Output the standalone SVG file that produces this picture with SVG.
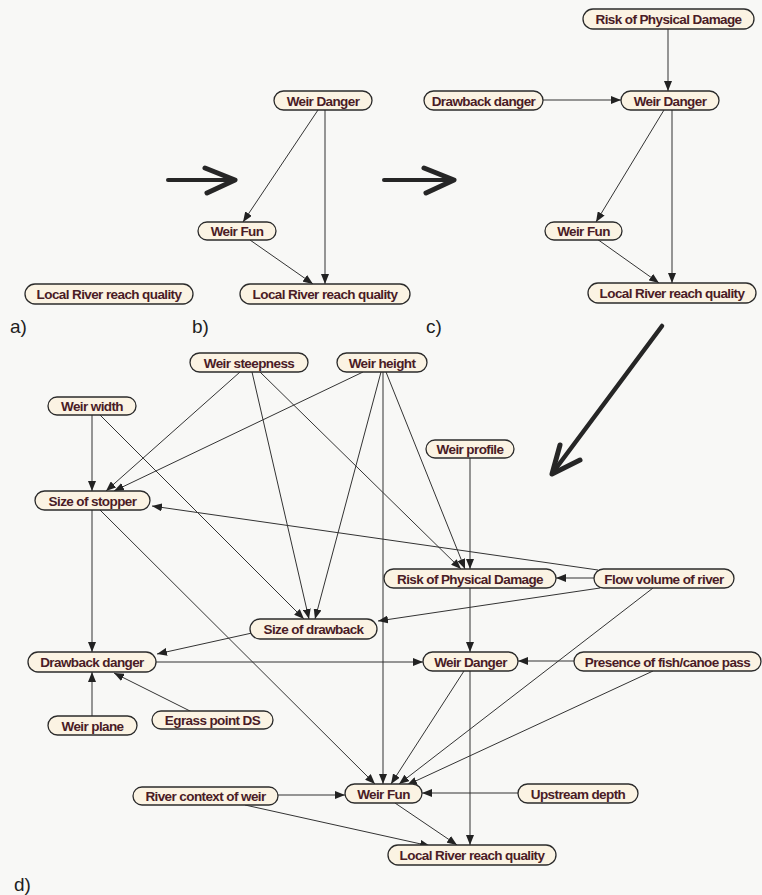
<svg xmlns="http://www.w3.org/2000/svg" width="762" height="895" viewBox="0 0 762 895">
<style>
.n rect{fill:#fbf3e3;stroke:#2b2b2b;stroke-width:1.3}
.n text{font-family:"Liberation Sans",Arial,sans-serif;font-size:13.5px;font-weight:bold;fill:#4a1c26;text-anchor:middle;letter-spacing:-0.6px}
.e line{stroke:#333;stroke-width:1;marker-end:url(#ah)}
.big{stroke:#262626;fill:none;stroke-linecap:round;stroke-linejoin:round}
.lbl{font-family:"Liberation Sans",Arial,sans-serif;font-size:19px;fill:#1e1e1e}
</style>
<defs>
<marker id="ah" markerUnits="userSpaceOnUse" markerWidth="10" markerHeight="8" refX="10" refY="4" orient="auto">
<path d="M0,0 L10,4 L0,8 z" fill="#222"/>
</marker>
</defs>
<rect width="762" height="895" fill="#f8f8f6"/>

<!-- big arrows -->
<g id="bigArrows">
<path class="big" d="M168,180 H233" stroke-width="4"/>
<path class="big" d="M205,168 L235,180 L207,193" stroke-width="5"/>
<path class="big" d="M384,180 H452" stroke-width="4"/>
<path class="big" d="M424,168 L454,180 L426,193" stroke-width="5"/>
<path class="big" d="M662,326 L554,471" stroke-width="4.5"/>
<path class="big" d="M560,445 L552,474 L580,460" stroke-width="5"/>
</g>

<g id="labels">
<text class="lbl" x="10" y="333">a)</text>
<text class="lbl" x="192" y="333">b)</text>
<text class="lbl" x="426" y="333">c)</text>
<text class="lbl" x="14" y="891">d)</text>
</g>

<g id="connectors" class="e">
<!-- b -->
<line x1="318" y1="110" x2="243" y2="222"/>
<line x1="325" y1="110" x2="325" y2="284"/>
<line x1="250" y1="240" x2="313" y2="284"/>
<!-- c -->
<line x1="668" y1="29" x2="668" y2="91"/>
<line x1="543" y1="100" x2="621" y2="100"/>
<line x1="664" y1="110" x2="596" y2="222"/>
<line x1="672" y1="110" x2="672" y2="283"/>
<line x1="597" y1="239" x2="659" y2="283"/>
<!-- d -->
<line x1="92" y1="415" x2="92" y2="491"/>
<line x1="100" y1="415" x2="304" y2="619"/>
<line x1="240" y1="372" x2="106" y2="491"/>
<line x1="363" y1="372" x2="114" y2="491"/>
<line x1="252" y1="372" x2="309" y2="619"/>
<line x1="260" y1="372" x2="461" y2="569"/>
<line x1="381" y1="372" x2="315" y2="619"/>
<line x1="383" y1="372" x2="383" y2="784"/>
<line x1="386" y1="372" x2="465" y2="569"/>
<line x1="470" y1="458" x2="470" y2="569"/>
<line x1="598" y1="570" x2="152" y2="506"/>
<line x1="594" y1="578" x2="556" y2="578"/>
<line x1="600" y1="588" x2="378" y2="621"/>
<line x1="653" y1="588" x2="399" y2="784"/>
<line x1="92" y1="510" x2="92" y2="652"/>
<line x1="100" y1="510" x2="375" y2="784"/>
<line x1="252" y1="633" x2="157" y2="654"/>
<line x1="156" y1="662" x2="423" y2="662"/>
<line x1="470" y1="588" x2="470" y2="652"/>
<line x1="574" y1="661" x2="518" y2="661"/>
<line x1="464" y1="671" x2="391" y2="784"/>
<line x1="470" y1="671" x2="470" y2="845"/>
<line x1="653" y1="671" x2="407" y2="785"/>
<line x1="92" y1="716" x2="92" y2="672"/>
<line x1="192" y1="712" x2="114" y2="673"/>
<line x1="278" y1="795" x2="345" y2="795"/>
<line x1="245" y1="805" x2="430" y2="846"/>
<line x1="518" y1="793" x2="422" y2="793"/>
<line x1="395" y1="803" x2="457" y2="845"/>
</g>

<!-- panel a -->
<g id="a_lrq" class="n"><rect x="25" y="284" width="168" height="20" rx="10"/><text x="109" y="299">Local River reach quality</text></g>
<!-- panel b -->
<g id="b_wd" class="n"><rect x="274" y="91" width="98" height="19" rx="9.5"/><text x="323" y="105.5">Weir Danger</text></g>
<g id="b_wf" class="n"><rect x="198" y="222" width="78" height="18" rx="9"/><text x="237" y="236">Weir Fun</text></g>
<g id="b_lrq" class="n"><rect x="240" y="284" width="170" height="20" rx="10"/><text x="325" y="299">Local River reach quality</text></g>
<!-- panel c -->
<g id="c_rpd" class="n"><rect x="583" y="9" width="171" height="20" rx="10"/><text x="668.5" y="24">Risk of Physical Damage</text></g>
<g id="c_dd" class="n"><rect x="424" y="91" width="119" height="19" rx="9.5"/><text x="483.5" y="105.5">Drawback danger</text></g>
<g id="c_wd" class="n"><rect x="621" y="91" width="98" height="19" rx="9.5"/><text x="670" y="105.5">Weir Danger</text></g>
<g id="c_wf" class="n"><rect x="545" y="222" width="77" height="18" rx="9"/><text x="583.5" y="236">Weir Fun</text></g>
<g id="c_lrq" class="n"><rect x="588" y="283" width="168" height="20" rx="10"/><text x="672" y="298">Local River reach quality</text></g>
<!-- panel d -->
<g id="d_ws" class="n"><rect x="190" y="353" width="118" height="19" rx="9.5"/><text x="249" y="367.5">Weir steepness</text></g>
<g id="d_wh" class="n"><rect x="337" y="353" width="90" height="19" rx="9.5"/><text x="382" y="367.5">Weir height</text></g>
<g id="d_ww" class="n"><rect x="48" y="397" width="88" height="18" rx="9"/><text x="92" y="411">Weir width</text></g>
<g id="d_wp" class="n"><rect x="426" y="440" width="88" height="18" rx="9"/><text x="470" y="454">Weir profile</text></g>
<g id="d_sos" class="n"><rect x="35" y="491" width="115" height="19" rx="9.5"/><text x="92.5" y="505.5">Size of stopper</text></g>
<g id="d_rpd" class="n"><rect x="384" y="569" width="172" height="19" rx="9.5"/><text x="470" y="583.5">Risk of Physical Damage</text></g>
<g id="d_fv" class="n"><rect x="594" y="569" width="140" height="19" rx="9.5"/><text x="664" y="583.5">Flow volume of river</text></g>
<g id="d_sod" class="n"><rect x="250" y="619" width="127" height="20" rx="10"/><text x="313.5" y="634">Size of drawback</text></g>
<g id="d_dd" class="n"><rect x="28" y="652" width="128" height="20" rx="10"/><text x="92" y="667">Drawback danger</text></g>
<g id="d_wd" class="n"><rect x="423" y="652" width="95" height="19" rx="9.5"/><text x="470.5" y="666.5">Weir Danger</text></g>
<g id="d_pf" class="n"><rect x="574" y="652" width="187" height="19" rx="9.5"/><text x="667.5" y="666.5">Presence of fish/canoe pass</text></g>
<g id="d_wpl" class="n"><rect x="48" y="716" width="89" height="19" rx="9.5"/><text x="92.5" y="730.5">Weir plane</text></g>
<g id="d_eg" class="n"><rect x="152" y="711" width="121" height="18" rx="9"/><text x="212.5" y="725">Egrass point DS</text></g>
<g id="d_rc" class="n"><rect x="133" y="787" width="145" height="18" rx="9"/><text x="205.5" y="801">River context of weir</text></g>
<g id="d_wf" class="n"><rect x="345" y="784" width="77" height="19" rx="9.5"/><text x="383.5" y="798.5">Weir Fun</text></g>
<g id="d_ud" class="n"><rect x="518" y="784" width="120" height="19" rx="9.5"/><text x="578" y="798.5">Upstream depth</text></g>
<g id="d_lrq" class="n"><rect x="388" y="845" width="168" height="20" rx="10"/><text x="472" y="860">Local River reach quality</text></g>
</svg>
